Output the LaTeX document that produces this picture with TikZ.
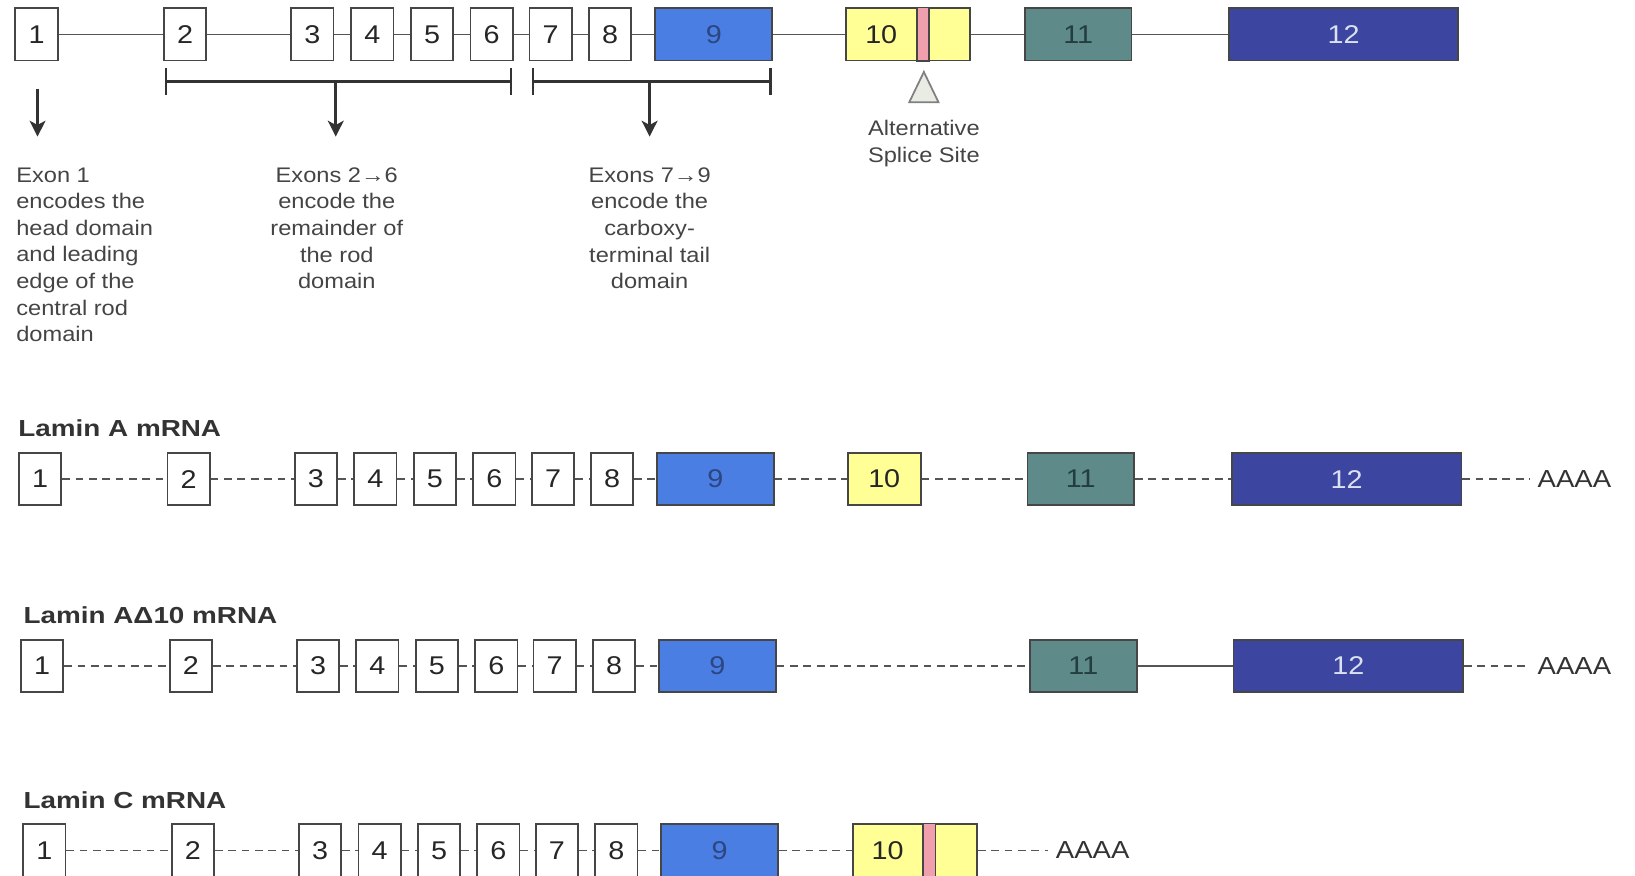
\documentclass[tikz,border=0pt]{standalone}
\usepackage{fontspec}
\setmainfont{Liberation Sans}[FakeStretch=1.12]
\newfontfamily\headfont{Liberation Sans}[FakeStretch=1.2]
\usepackage{tikz}
\usetikzlibrary{arrows.meta,calc}

\definecolor{exonblue}{RGB}{74,126,226}
\definecolor{exonyellow}{RGB}{255,255,150}
\definecolor{sitepink}{RGB}{240,160,172}
\definecolor{exonteal}{RGB}{94,138,138}
\definecolor{exonnavy}{RGB}{60,70,160}
\definecolor{boxgray}{RGB}{70,70,70}
\definecolor{linegray}{RGB}{85,85,85}
\definecolor{notegray}{RGB}{68,68,68}

\tikzset{
  exon/.style={draw=boxgray, line width=0.5pt, fill=white, inner sep=0pt,
    minimum width=0.4223cm, minimum height=0.5214cm,
    font=\fontsize{7.3}{8.8}\selectfont, text=black!85},
  nine/.style={exon, fill=exonblue, minimum width=1.1678cm, text={rgb,255:red,45;green,70;blue,130}},
  tenbig/.style={exon, fill=exonyellow, minimum width=1.2408cm},
  tensmall/.style={exon, fill=exonyellow, minimum width=0.7299cm},
  eleven/.style={exon, fill=exonteal, minimum width=1.0636cm, text={rgb,255:red,35;green,62;blue,62}},
  twelve/.style={exon, fill=exonnavy, minimum width=2.2939cm, text={rgb,255:red,220;green,225;blue,240}},
  stripe/.style={draw=boxgray, line width=0.5pt, fill=sitepink},
  intron/.style={draw=linegray, line width=0.45pt},
  splice/.style={intron, dash pattern=on 2.2pt off 1.6pt},
  polyA/.style={splice, shorten >=2pt},
  bracket/.style={draw=black!80, line width=0.7pt, {Bar[width=7.7pt]}-{Bar[width=7.7pt]}},
  pointer/.style={draw=black!80, line width=0.8pt, -{Stealth[length=4.5pt,width=4.5pt,inset=1.2pt]}},
  note/.style={inner sep=0pt, text=notegray, font=\fontsize{6}{7.57}\selectfont},
  rowtitle/.style={inner sep=0pt, anchor=base west, text=black!80, font=\headfont\bfseries\fontsize{6.6}{8}\selectfont},
  tail/.style={inner sep=0pt, anchor=west, text=black!80, font=\fontsize{7}{8}\selectfont}
}

\begin{document}
\begin{tikzpicture}[x=0.010427cm, y=-0.010427cm]
  \useasboundingbox (0,0) rectangle (1568,840);

  % Gene: exons 1-12 joined by introns
  \foreach \n/\x in {1/35,2/177.5,3/299.5,4/357,5/414.5,6/471.5,7/528,8/585}
    \node[exon] (g\n) at (\x,33) {\n};
  \node[nine] (g9) at (684.5,33) {9};
  \node[tenbig] (g10) at (870.5,33) {};
  \filldraw[stripe] ($(g10.south west)+(69,0)$) rectangle ($(g10.north west)+(81,0)$);
  \node[exon, draw=none, fill=none] (g10l) at ($(g10.west)+(35,0)$) {10};
  \node[eleven] (g11) at (1034,33) {11};
  \node[twelve] (g12) at (1288.5,33) {12};
  \foreach \a/\b in {1/2,2/3,3/4,4/5,5/6,6/7,7/8,8/9,9/10,10/11,11/12}
    \draw[intron] (g\a) -- (g\b);

  % Domains encoded by the exons
  \coordinate (headtop) at (36,85);
  \coordinate (headtip) at (36,131);
  \coordinate (rodL) at (158,78);
  \coordinate (rodR) at (491,78);
  \coordinate (rodtip) at (322,131);
  \coordinate (tailL) at (510,78);
  \coordinate (tailR) at (740,78);
  \coordinate (tailtip) at (623,131);
  \draw[bracket] (rodL) -- (rodR);
  \draw[bracket] (tailL) -- (tailR);
  \draw[pointer] (headtop) -- (headtip);
  \draw[pointer] (rodtip |- rodL) -- (rodtip);
  \draw[pointer] (tailtip |- tailL) -- (tailtip);

  \node[note, anchor=north west, align=left] (headnote) at (15,160)
    {Exon 1\\encodes the\\head domain\\and leading\\edge of the\\central rod\\domain};
  \node[note, anchor=north, align=center] (rodnote) at (323,160)
    {Exons 2→6\\encode the\\remainder of\\the rod\\domain};
  \node[note, anchor=north, align=center] (tailnote) at (623,160)
    {Exons 7→9\\encode the\\carboxy-\\terminal tail\\domain};

  % Alternative splice site in exon 10
  \filldraw[draw=black!50, fill={rgb,255:red,232;green,236;blue,228}, line width=0.5pt]
    (886,69) -- (872,98) -- (900,98) -- cycle;
  \node[note, anchor=north, align=center] (sitenote) at (886,115)
    {Alternative\\Splice Site};

  % Lamin A mRNA
  \node[rowtitle] (titleA) at (17,419) {Lamin A mRNA};
  \foreach \n/\x in {1/38.5,2/181,3/303,4/360,5/417,6/474,7/530.5,8/587}
    \node[exon] (a\n) at (\x,459.5) {\n};
  \node[nine] (a9) at (686,459.5) {9};
  \node[tensmall] (a10) at (848,459.5) {10};
  \node[eleven] (a11) at (1036.5,459.5) {11};
  \node[twelve] (a12) at (1291.5,459.5) {12};
  \node[tail] (aA) at (1474,459.5) {AAAA};
  \foreach \a/\b in {1/2,2/3,3/4,4/5,5/6,6/7,7/8,8/9,9/10,10/11,11/12}
    \draw[splice] (a\a) -- (a\b);
  \draw[polyA] (a12) -- (aA);

  % Lamin A delta 10 mRNA
  \node[rowtitle] (titleD) at (22,598) {Lamin AΔ10 mRNA};
  \foreach \n/\x in {1/40.5,2/183,3/305,4/362,5/419,6/476,7/532,8/589}
    \node[exon] (d\n) at (\x,638.5) {\n};
  \node[nine] (d9) at (688,638.5) {9};
  \node[eleven] (d11) at (1039,638.5) {11};
  \node[twelve] (d12) at (1293,638.5) {12};
  \node[tail] (dA) at (1474,638.5) {AAAA};
  \foreach \a/\b in {1/2,2/3,3/4,4/5,5/6,6/7,7/8,8/9,9/11}
    \draw[splice] (d\a) -- (d\b);
  \draw[intron] (d11) -- (d12);
  \draw[polyA] (d12) -- (dA);

  % Lamin C mRNA
  \node[rowtitle] (titleC) at (22,775) {Lamin C mRNA};
  \foreach \n/\x in {1/42.5,2/185,3/307,4/364,5/421,6/478,7/534,8/591}
    \node[exon] (c\n) at (\x,815.5) {\n};
  \node[nine] (c9) at (690,815.5) {9};
  \node[tenbig] (c10) at (877.5,815.5) {};
  \filldraw[stripe] ($(c10.south west)+(68,0)$) rectangle ($(c10.north west)+(80,0)$);
  \node[exon, draw=none, fill=none] (c10l) at ($(c10.west)+(34,0)$) {10};
  \node[tail] (cA) at (1012,815.5) {AAAA};
  \foreach \a/\b in {1/2,2/3,3/4,4/5,5/6,6/7,7/8,8/9,9/10}
    \draw[splice] (c\a) -- (c\b);
  \draw[polyA] (c10) -- (cA);
\end{tikzpicture}
\end{document}
